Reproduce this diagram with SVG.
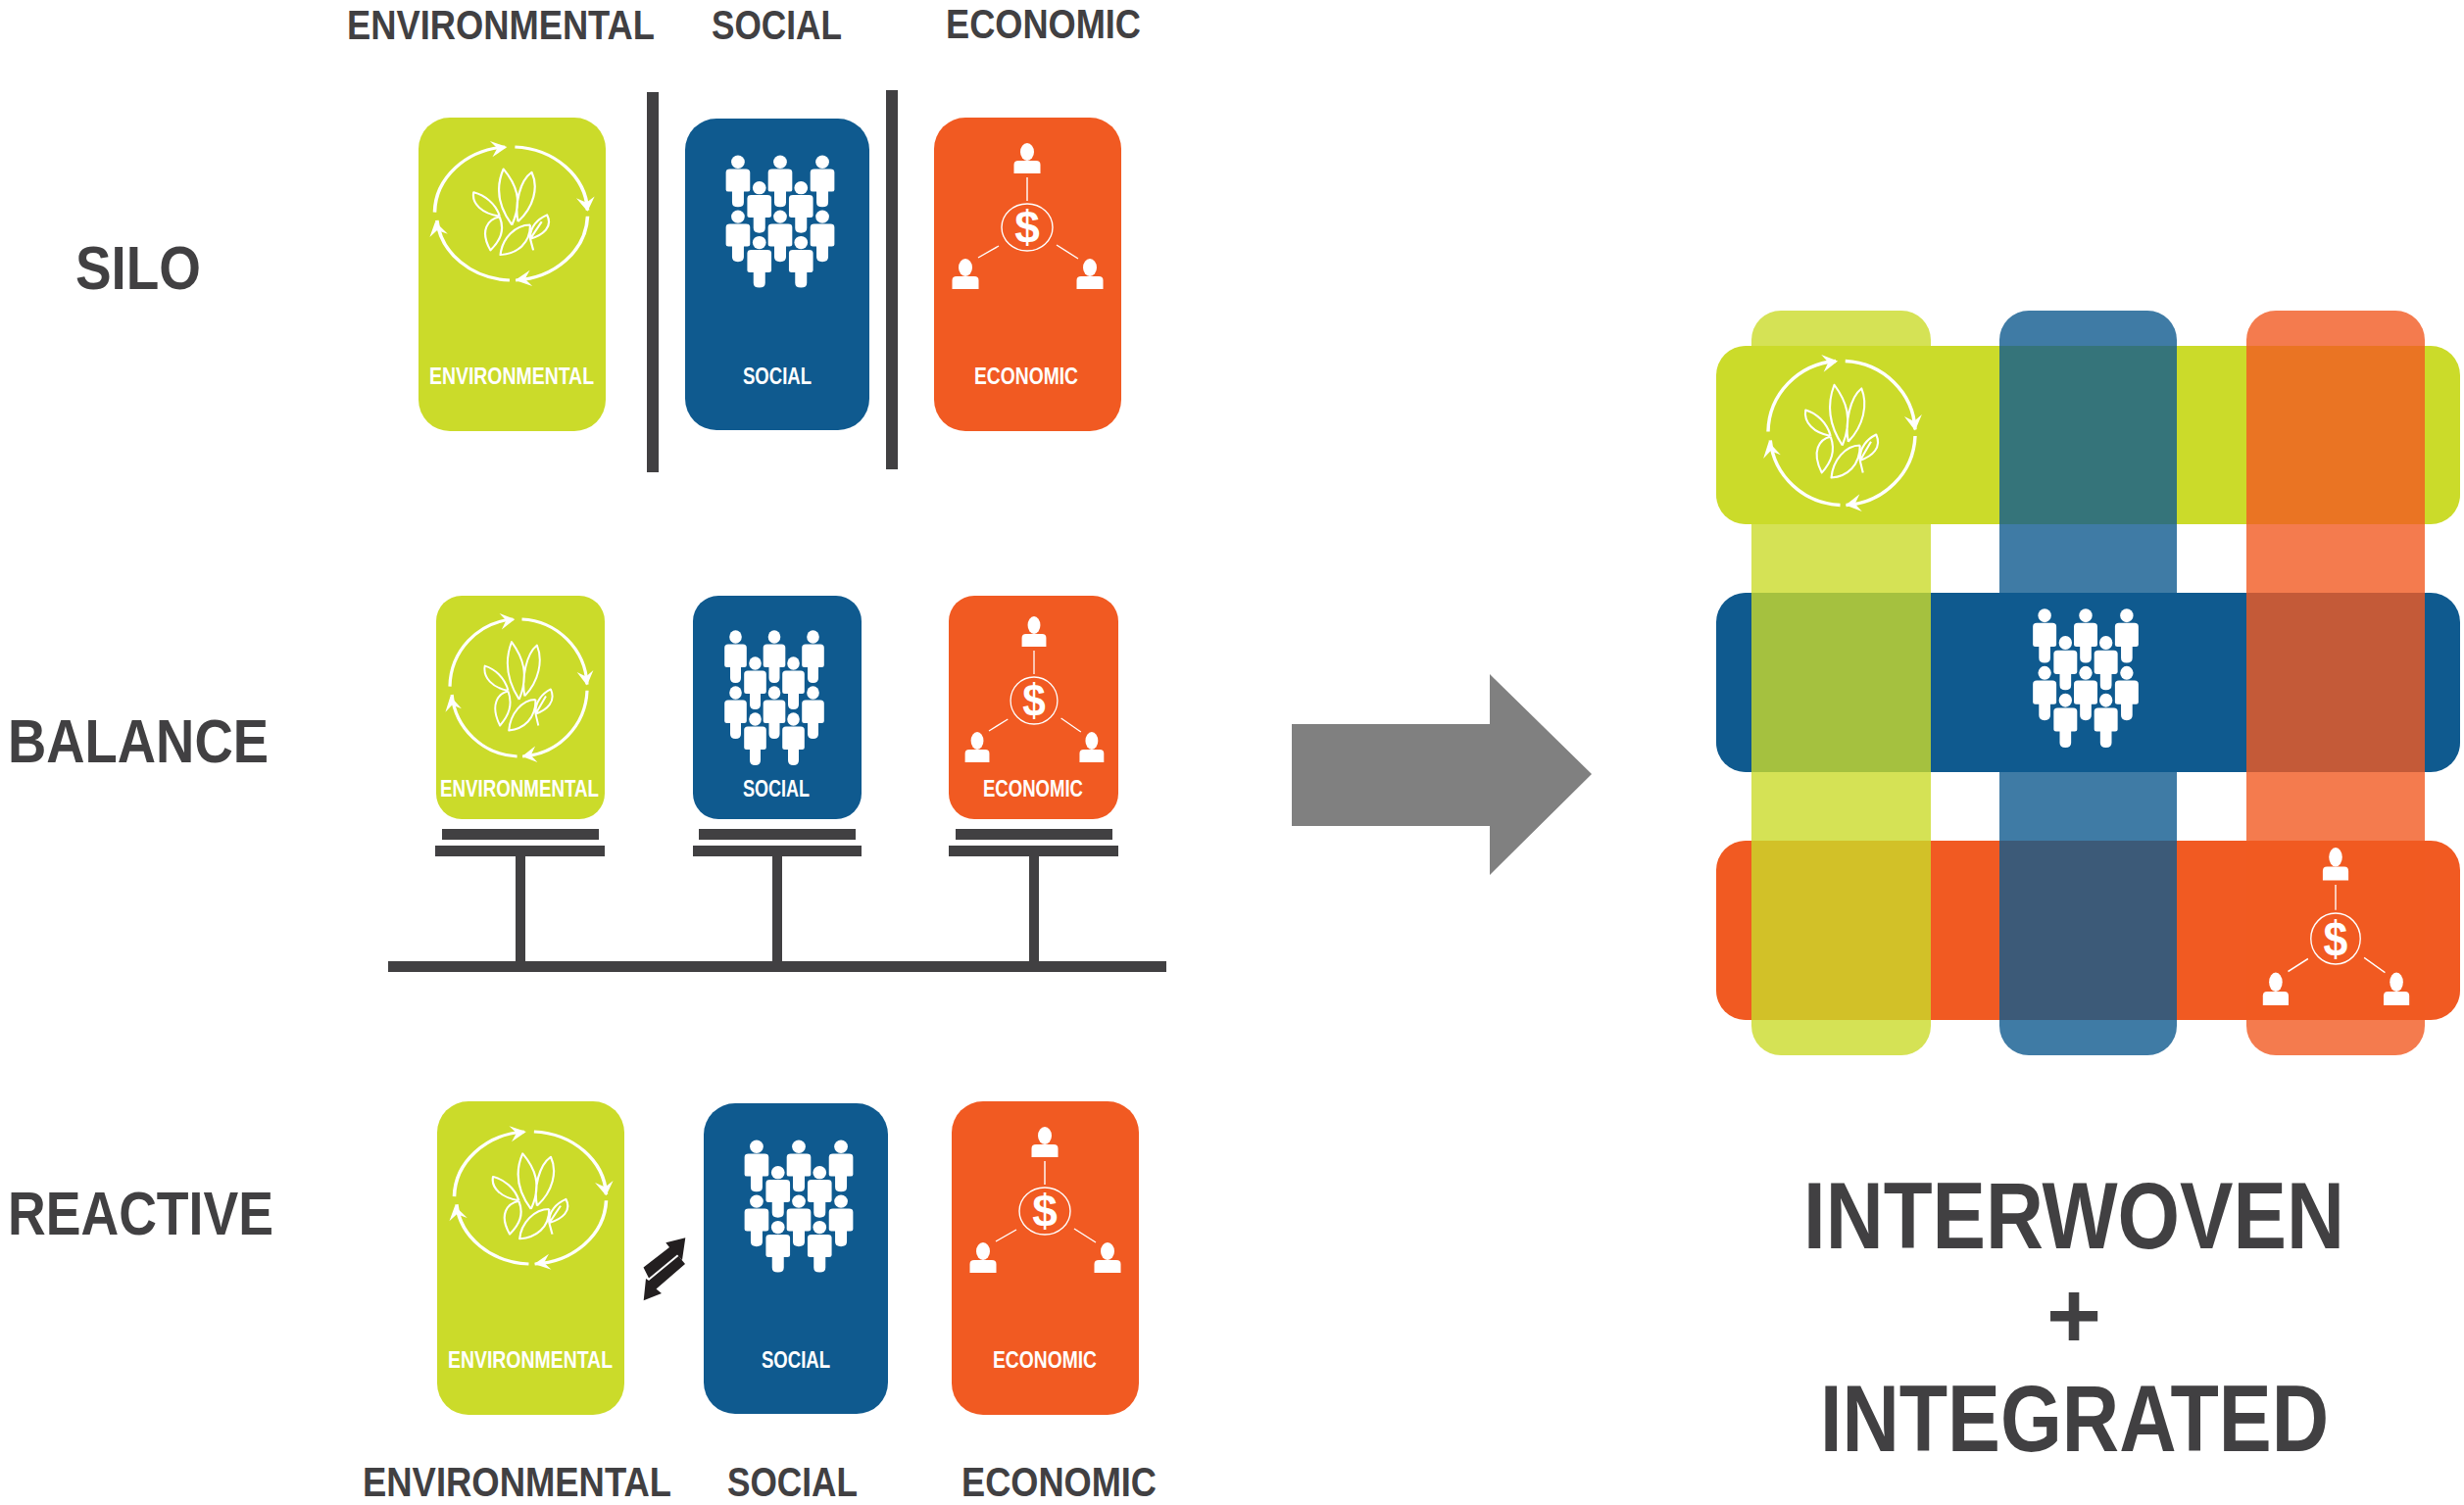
<svg xmlns="http://www.w3.org/2000/svg" width="2514" height="1536" viewBox="0 0 2514 1536">
<style>
text{font-family:"Liberation Sans Narrow","Liberation Sans",Arial,sans-serif;font-weight:700;fill:#414042}
.cl{fill:#fff;font-size:23px}
.h{font-size:42px}
.r{font-size:63px}
.b{font-size:96px}
.dl{fill:#fff;font-size:46px;text-anchor:middle;font-family:"Liberation Sans",Arial,sans-serif}
.g{fill:#cbdb2a}.u{fill:#0f5a8f}.o{fill:#f15a22}
.k{fill:#414042}
.lf{fill:none;stroke:#fff;stroke-width:2.8;stroke-linejoin:round}
.ar{fill:none;stroke:#fff;stroke-width:4.6}
.ln{stroke:#fff;stroke-width:1.4;fill:none}
.col{opacity:.8}
</style>
<defs>
<g id="envIcon">
<path class="ar" d="M-100 -2A100 100 0 0 1 -8 -100M5 -100A100 100 0 0 1 100 -5M100 4A100 100 0 0 1 6 100M-2 100A100 100 0 0 1 -97 10"/>
<g fill="#fff">
<path d="M0 -100L-22 -110L-13 -99L-20 -86Z" transform="rotate(-3)"/>
<path d="M0 -100L-22 -110L-13 -99L-20 -86Z" transform="rotate(88)"/>
<path d="M0 -100L-22 -110L-13 -99L-20 -86Z" transform="rotate(177)"/>
<path d="M0 -100L-22 -110L-13 -99L-20 -86Z" transform="rotate(263)"/>
</g>
<path class="lf" d="M1 17C-10 0 -24 -30 -10 -67C6 -45 16 -20 1 17M9 12C4 -15 12 -50 27 -62C36 -40 30 -10 9 12M-15 4C-20 -15 -35 -28 -49 -32C-52 -15 -38 0 -15 4M-15 5C-30 8 -42 25 -27 55C-14 40 -8 25 -15 5M25 17C5 17 -12 38 -14 62C8 60 25 45 25 17M25 38C24 20 35 8 47 2C55 20 42 32 25 38L29 55M40 12L25 38"/>
</g>
<path id="person" fill="#fff" d="M-11.300 11Q-11.300 7.500 -7.500 7.500H7.500Q11.300 7.500 11.300 11V29Q11.300 31 9 31H5.500V42Q5.500 47 0 47Q-5.500 47 -5.500 42V31H-9Q-11.300 31 -11.300 29Z"/>
<g id="prs"><ellipse cx="0" cy="0" rx="6.300" ry="6.800" fill="#fff"/><use href="#person"/></g>
<g id="peopleIcon">
<use href="#prs" x="-39.500" y="-62"/><use href="#prs" x="0" y="-62"/><use href="#prs" x="39.500" y="-62"/>
<use href="#prs" x="-19.500" y="-35"/><use href="#prs" x="19.500" y="-35"/>
<use href="#prs" x="-39.500" y="-5"/><use href="#prs" x="0" y="-5"/><use href="#prs" x="39.500" y="-5"/>
<use href="#prs" x="-19.500" y="22"/><use href="#prs" x="19.500" y="22"/>
</g>
<g id="bust" fill="#fff"><ellipse cx="0" cy="0" rx="7" ry="9"/><path d="M-13.500 22V13Q-13.500 9 -9 9H9Q13.500 9 13.500 13V22Z"/></g>
<g id="econIcon">
<ellipse cx="0" cy="0" rx="26" ry="24" class="ln"/>
<path class="ln" d="M0 -51V-27M-50 31L-29 19M30 18L52 32"/>
<use href="#bust" x="0" y="-77"/><use href="#bust" x="-63" y="41"/><use href="#bust" x="64" y="41"/>
</g>
</defs>

<rect width="2514" height="1536" fill="#fff"/>

<g id="headings">
<text class="h" x="354" y="40" textLength="314" lengthAdjust="spacingAndGlyphs">ENVIRONMENTAL</text>
<text class="h" x="726" y="40" textLength="133" lengthAdjust="spacingAndGlyphs">SOCIAL</text>
<text class="h" x="965" y="39" textLength="199" lengthAdjust="spacingAndGlyphs">ECONOMIC</text>
<text class="r" x="77" y="295" textLength="128" lengthAdjust="spacingAndGlyphs">SILO</text>
<text class="r" x="8" y="778" textLength="266" lengthAdjust="spacingAndGlyphs">BALANCE</text>
<text class="r" x="8" y="1260" textLength="271" lengthAdjust="spacingAndGlyphs">REACTIVE</text>
<text class="h" x="370" y="1527" textLength="315" lengthAdjust="spacingAndGlyphs">ENVIRONMENTAL</text>
<text class="h" x="742" y="1527" textLength="133" lengthAdjust="spacingAndGlyphs">SOCIAL</text>
<text class="h" x="981" y="1527" textLength="199" lengthAdjust="spacingAndGlyphs">ECONOMIC</text>
<text class="b" x="1840" y="1274" textLength="552" lengthAdjust="spacingAndGlyphs">INTERWOVEN</text>
<text class="b" x="2116" y="1376" text-anchor="middle">+</text>
<text class="b" x="1857" y="1481" textLength="519" lengthAdjust="spacingAndGlyphs">INTEGRATED</text>
</g>

<g id="silo-env"><rect class="g" x="427" y="120" width="191" height="320" rx="32"/><use href="#envIcon" transform="translate(521.500 218) scale(.78 .68)"/><text class="cl" x="438" y="392" textLength="168" lengthAdjust="spacingAndGlyphs">ENVIRONMENTAL</text></g>
<g id="silo-soc"><rect class="u" x="699" y="121" width="188" height="318" rx="32"/><use href="#peopleIcon" transform="translate(796 226) scale(1.09 .98)"/><text class="cl" x="758" y="392" textLength="70" lengthAdjust="spacingAndGlyphs">SOCIAL</text></g>
<g id="silo-eco"><rect class="o" x="953" y="120" width="191" height="320" rx="32"/><g transform="translate(1048 232)"><use href="#econIcon"/><text class="dl" y="16">$</text></g><text class="cl" x="994" y="392" textLength="106" lengthAdjust="spacingAndGlyphs">ECONOMIC</text></g>

<g id="bal-env"><rect class="g" x="445" y="608" width="172" height="228" rx="26"/><use href="#envIcon" transform="translate(529 702) scale(.7)"/><text class="cl" x="449" y="813" textLength="162" lengthAdjust="spacingAndGlyphs">ENVIRONMENTAL</text></g>
<g id="bal-soc"><rect class="u" x="707" y="608" width="172" height="228" rx="26"/><use href="#peopleIcon" transform="translate(790 712)"/><text class="cl" x="758" y="813" textLength="68" lengthAdjust="spacingAndGlyphs">SOCIAL</text></g>
<g id="bal-eco"><rect class="o" x="968" y="608" width="173" height="228" rx="26"/><g transform="translate(1055 715) scale(.92 1)"><use href="#econIcon"/><text class="dl" y="16">$</text></g><text class="cl" x="1003" y="813" textLength="102" lengthAdjust="spacingAndGlyphs">ECONOMIC</text></g>

<g id="rea-env"><rect class="g" x="446" y="1124" width="191" height="320" rx="32"/><use href="#envIcon" transform="translate(541 1222.500) scale(.775 .675)"/><text class="cl" x="457" y="1396" textLength="168" lengthAdjust="spacingAndGlyphs">ENVIRONMENTAL</text></g>
<g id="rea-soc"><rect class="u" x="718" y="1126" width="188" height="317" rx="32"/><use href="#peopleIcon" transform="translate(815 1231) scale(1.09 .98)"/><text class="cl" x="777" y="1396" textLength="70" lengthAdjust="spacingAndGlyphs">SOCIAL</text></g>
<g id="rea-eco"><rect class="o" x="971" y="1124" width="191" height="320" rx="32"/><g transform="translate(1066 1236)"><use href="#econIcon"/><text class="dl" y="16">$</text></g><text class="cl" x="1013" y="1396" textLength="106" lengthAdjust="spacingAndGlyphs">ECONOMIC</text></g>

<g id="connectors">
<rect class="k" x="660" y="94" width="12" height="388"/>
<rect class="k" x="904" y="92" width="12" height="387"/>
<rect class="k" x="451" y="846" width="160" height="11"/><rect class="k" x="444" y="863" width="173" height="11"/>
<rect class="k" x="713" y="846" width="160" height="11"/><rect class="k" x="707" y="863" width="172" height="11"/>
<rect class="k" x="975" y="846" width="160" height="11"/><rect class="k" x="968" y="863" width="173" height="11"/>
<rect class="k" x="526" y="874" width="10" height="110"/>
<rect class="k" x="788" y="874" width="10" height="110"/>
<rect class="k" x="1050" y="874" width="10" height="110"/>
<rect class="k" x="396" y="981" width="794" height="11"/>
<path fill="#231f20" d="M699.300 1263.300L679.300 1268.300L683 1273L656.500 1293.500L662 1304.500L691 1280.500L696 1286ZM656.700 1327.300L675 1320L669.500 1315.500L699 1290L692.300 1282L662 1307L659 1305Z"/>
<path fill="#808080" d="M1318 739H1520V688L1624 790L1520 893V843H1318Z"/>
</g>

<g id="weave">
<g id="band-env-h"><rect class="g" x="1751" y="353" width="759" height="182" rx="30"/></g>
<g id="band-soc-h"><rect class="u" x="1751" y="605" width="759" height="183" rx="30"/></g>
<g id="band-eco-h"><rect class="o" x="1751" y="858" width="759" height="183" rx="30"/></g>
<g id="band-env-v"><rect class="g col" x="1787" y="317" width="183" height="760" rx="30"/></g>
<g id="band-soc-v"><rect class="u col" x="2040" y="317" width="181" height="760" rx="30"/></g>
<g id="band-eco-v"><rect class="o col" x="2292" y="317" width="182" height="760" rx="30"/></g>
<use href="#envIcon" transform="translate(1879 442) scale(.75 .735)"/>
<use href="#peopleIcon" transform="translate(2128 692) scale(1.06 1.03)"/>
<g transform="translate(2383 958) scale(.97 1.08)"><use href="#econIcon"/><text class="dl" y="16">$</text></g>
</g>
</svg>
